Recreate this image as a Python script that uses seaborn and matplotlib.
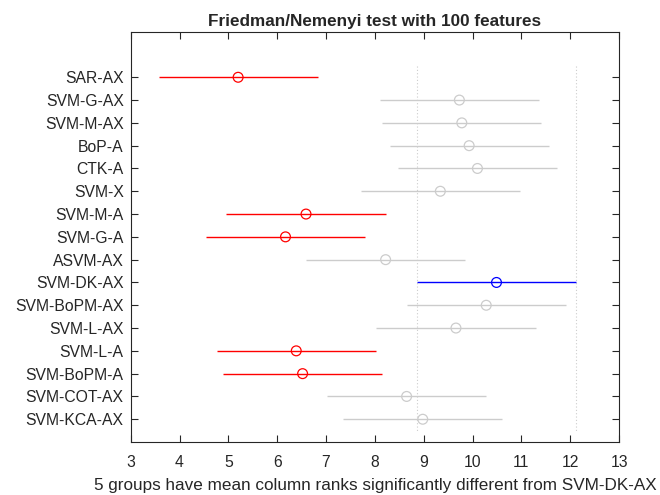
import matplotlib
matplotlib.use("Agg")
import matplotlib.pyplot as plt
import seaborn as sns
import pandas as pd
import numpy as np

methods = ["SAR-AX", "SVM-G-AX", "SVM-M-AX", "BoP-A", "CTK-A", "SVM-X", "SVM-M-A",
           "SVM-G-A", "ASVM-AX", "SVM-DK-AX", "SVM-BoPM-AX", "SVM-L-AX", "SVM-L-A",
           "SVM-BoPM-A", "SVM-COT-AX", "SVM-KCA-AX"]
mean_ranks = [5.20, 9.73, 9.78, 9.93, 10.10, 9.34, 6.59, 6.17, 8.22, 10.49, 10.28,
              9.66, 6.39, 6.52, 8.65, 8.98]
half_width = 1.63
status = ["diff", "same", "same", "same", "same", "same", "diff", "diff", "same",
          "ref", "same", "same", "diff", "diff", "same", "same"]
ref_name = "SVM-DK-AX"
xticks = list(range(3, 14))

palette = {"diff": (1, 0, 0), "same": (0.8, 0.8, 0.8), "ref": (0, 0, 1)}

df = pd.DataFrame({"method": methods, "rank": mean_ranks, "status": status})
df["lo"] = df["rank"] - half_width
df["hi"] = df["rank"] + half_width
df["pos"] = np.arange(len(df))

sns.set_style("white")
plt.rcParams["font.family"] = ["Liberation Sans", "DejaVu Sans"]

fig = plt.figure(figsize=(6.6, 4.95), dpi=100)
ax = fig.add_axes([0.198, 0.107, 0.740, 0.829])

ref = df[df["method"] == ref_name].iloc[0]
for xv in (ref["lo"], ref["hi"]):
    ax.vlines(xv, -0.5, len(df) - 0.5, colors=(0.8, 0.8, 0.8), linestyles=(0, (1, 2)), lw=0.8, zorder=1)

for _, r in df.iterrows():
    ax.hlines(r["pos"], r["lo"], r["hi"], colors=[palette[r["status"]]], lw=1.0, zorder=2)

sns.scatterplot(data=df, x="rank", y="pos", hue="status", palette=palette, ax=ax,
                marker="o", s=50, facecolors="none", legend=False, zorder=3, linewidth=0.9)
coll = ax.collections[-1]
ec = [palette[s] for s in df["status"]]
coll.set_edgecolors(ec)
coll.set_facecolors("none")

ax.set_xlim(3, 13)
ax.set_ylim(len(df), -2)
ax.set_xticks(xticks)
ax.set_xticklabels([str(t) for t in xticks])
ax.set_yticks(df["pos"])
ax.set_yticklabels(df["method"])
ax.set_ylabel("")
ax.set_xlabel("5 groups have mean column ranks significantly different from SVM-DK-AX",
              fontsize=12.3, color=(0.15, 0.15, 0.15), labelpad=6)
ax.set_title("Friedman/Nemenyi test with 100 features", fontsize=12.3, fontweight="bold", pad=4)

for sp in ax.spines.values():
    sp.set_visible(True)
    sp.set_color((0.15, 0.15, 0.15))
    sp.set_linewidth(0.8)
ax.tick_params(axis="both", direction="in", length=5, width=0.8, color=(0.15, 0.15, 0.15),
               labelsize=11.3, labelcolor=(0.15, 0.15, 0.15), top=True, right=True,
               left=True, bottom=True)
ax.tick_params(axis="x", pad=9)
ax.tick_params(axis="y", pad=5)

fig.savefig("out.png", dpi=100)
